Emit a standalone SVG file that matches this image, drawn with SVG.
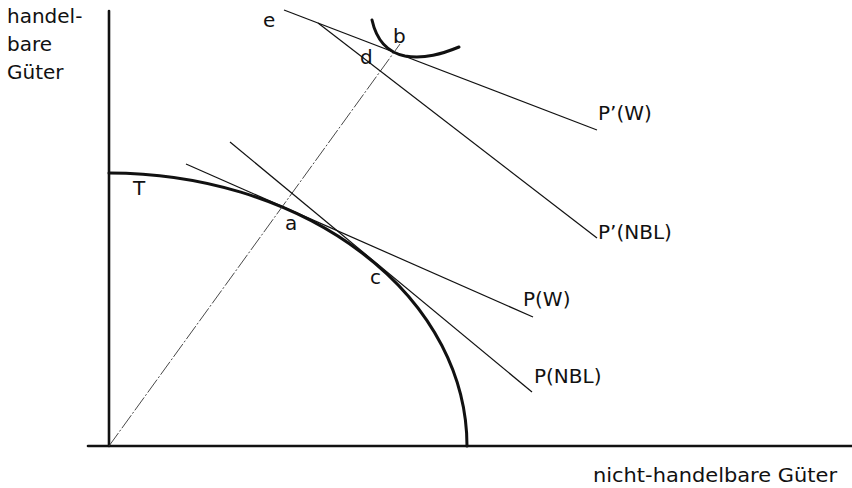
<svg xmlns="http://www.w3.org/2000/svg" width="852" height="488" viewBox="0 0 852 488">
<style>
text{font-family:"DejaVu Sans","Liberation Sans",sans-serif;font-size:20px;fill:#111}
.axis{stroke:#111;stroke-width:2.6;fill:none;stroke-linecap:round}
.thick{stroke:#111;stroke-width:3;fill:none;stroke-linecap:round}
.thin{stroke:#111;stroke-width:1.2;fill:none}
.ray{stroke:#333;stroke-width:0.9;fill:none;stroke-dasharray:16 2 2 2}
</style>
<rect width="852" height="488" fill="#fff"/>
<g id="axes">
<line class="axis" x1="109" y1="11" x2="109" y2="446"/>
<line class="axis" x1="88" y1="446" x2="852" y2="446"/>
<text x="7" y="23">handel-</text>
<text x="7" y="51">bare</text>
<text x="7" y="79">Güter</text>
<text x="593" y="482" textLength="244" lengthAdjust="spacingAndGlyphs">nicht-handelbare Güter</text>
</g>
<g id="curve-T">
<path class="thick" d="M109 173 A358 273 0 0 1 467 446"/>
<text x="133" y="195">T</text>
</g>
<g id="indifference-curve">
<path class="thick" d="M372 20 C376 38 385 52 405 56 C425 59 442 54 459 47"/>
</g>
<g id="connectors">
<line class="ray" x1="109" y1="446" x2="400" y2="44"/>
<line class="thin" x1="186" y1="164" x2="533" y2="317"/>
<line class="thin" x1="230" y1="142" x2="532" y2="392"/>
<line class="thin" x1="284" y1="10" x2="597" y2="130"/>
<line class="thin" x1="318" y1="23" x2="597" y2="238"/>
</g>
<g id="labels">
<text x="263" y="27">e</text>
<text x="393" y="43">b</text>
<text x="360" y="64">d</text>
<text x="285" y="230">a</text>
<text x="370" y="284">c</text>
<text x="598" y="120">P’(W)</text>
<text x="598" y="239">P’(NBL)</text>
<text x="523" y="306">P(W)</text>
<text x="534" y="383">P(NBL)</text>
</g>
</svg>
